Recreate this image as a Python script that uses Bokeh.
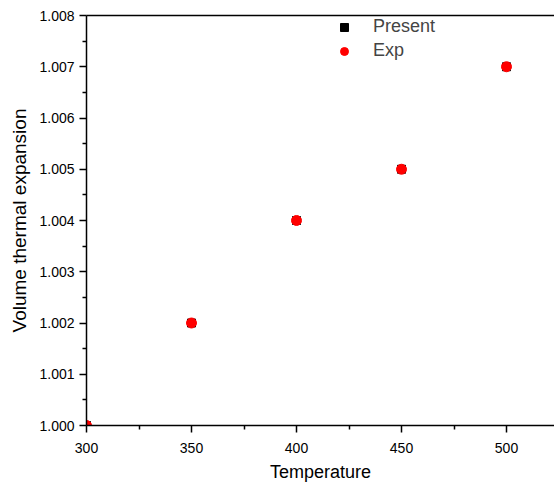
from bokeh.plotting import figure
from bokeh.models import Range1d, FixedTicker, LinearAxis, Legend, LegendItem, PrintfTickFormatter
from bokeh.embed import file_html
from bokeh.resources import INLINE

temperature = [300, 350, 400, 450, 500]
present = [1.000, 1.002, 1.004, 1.005, 1.007]
exp = [1.000, 1.002, 1.004, 1.005, 1.007]

x_ticks = [300, 350, 400, 450, 500]
x_minor = [325, 375, 425, 475, 525]
y_ticks = [1.000, 1.001, 1.002, 1.003, 1.004, 1.005, 1.006, 1.007, 1.008]
y_minor = [1.0005, 1.0015, 1.0025, 1.0035, 1.0045, 1.0055, 1.0065, 1.0075]

FONT = "Liberation Sans"

p = figure(width=554, height=484, output_backend="svg", toolbar_location=None,
           x_range=Range1d(300, 300 + 468 / 2.1), y_range=Range1d(1.000, 1.008),
           min_border_left=86, min_border_top=15, min_border_bottom=59, min_border_right=0)
p.outline_line_color = None
p.grid.visible = False
p.background_fill_color = "white"
p.border_fill_color = "white"

for ax in [p.xaxis[0], p.yaxis[0]]:
    ax.axis_line_width = 1.5
    ax.major_tick_line_width = 1.5
    ax.minor_tick_line_width = 1.5
    ax.major_tick_out = 7
    ax.major_tick_in = 0
    ax.minor_tick_out = 4
    ax.minor_tick_in = 0
    ax.major_label_text_font = FONT
    ax.major_label_text_font_size = "14px"
    ax.major_label_text_color = "black"
    ax.axis_label_text_font = FONT
    ax.axis_label_text_font_style = "normal"
    ax.axis_label_text_color = "black"

p.xaxis[0].axis_label_text_font_size = "18px"
p.yaxis[0].axis_label_text_font_size = "19px"
p.xaxis[0].ticker = FixedTicker(ticks=x_ticks, minor_ticks=x_minor)
p.yaxis[0].ticker = FixedTicker(ticks=y_ticks, minor_ticks=y_minor)
p.yaxis[0].formatter = PrintfTickFormatter(format="%.3f")
p.xaxis[0].axis_label = "Temperature"
p.yaxis[0].axis_label = "Volume thermal expansion"
p.xaxis[0].major_label_standoff = 10
p.yaxis[0].major_label_standoff = 5
p.xaxis[0].axis_label_standoff = 6
p.yaxis[0].axis_label_standoff = 6

top = LinearAxis(ticker=FixedTicker(ticks=[]), major_label_text_font_size="0px",
                 axis_line_width=1.5, major_tick_out=0, minor_tick_out=0)
p.add_layout(top, "above")

r1 = p.scatter(temperature, present, marker="square", size=8, color="black")
r2 = p.scatter(temperature, exp, marker="circle", size=10, color="red")

legend = Legend(items=[LegendItem(label="Present", renderers=[r1]),
                       LegendItem(label="Exp", renderers=[r2])],
                location=(248, 364), glyph_width=20, glyph_height=20, label_height=20,
                spacing=3, padding=0, label_standoff=19, border_line_color=None,
                background_fill_alpha=0, label_text_font=FONT, label_text_font_size="18px",
                margin=0)
p.add_layout(legend, "center")

open("out.html", "w").write(file_html(p, INLINE))
